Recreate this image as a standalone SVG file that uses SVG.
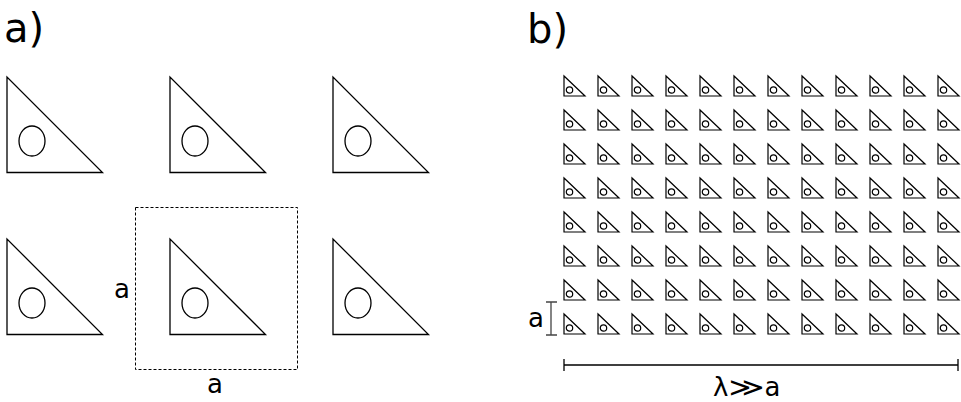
<svg xmlns="http://www.w3.org/2000/svg" xmlns:xlink="http://www.w3.org/1999/xlink" width="961" height="402" viewBox="0 0 961 402">
<style>
.s{fill:none;stroke:#000;stroke-width:1.3}
.ss{fill:none;stroke:#000;stroke-width:1.2}
.t{font-family:"DejaVu Sans","Liberation Sans",sans-serif;fill:#000}
</style>
<defs>
<g id="big"><path class="s" d="M0,0 L0,95.5 L95.5,95.5 Z"/><ellipse class="s" cx="25" cy="64" rx="13" ry="15"/></g>
<g id="small"><path class="ss" d="M0,0 L0,20 L21,20 Z"/><circle class="ss" cx="5.5" cy="14" r="3.2"/></g>
</defs>
<rect width="961" height="402" fill="#fff"/>
<text class="t" x="4" y="42" font-size="40">a)</text>
<text class="t" x="527" y="43" font-size="40">b)</text>
<g id="a-cells">
<use id="a11" xlink:href="#big" x="7" y="77"/>
<use id="a12" xlink:href="#big" x="170" y="77"/>
<use id="a13" xlink:href="#big" x="333" y="77"/>
<use id="a21" xlink:href="#big" x="7" y="239"/>
<use id="a22" xlink:href="#big" x="170" y="239"/>
<use id="a23" xlink:href="#big" x="333" y="239"/>
</g>
<rect x="135.5" y="207.5" width="162" height="162" fill="none" stroke="#000" stroke-width="1" stroke-dasharray="3,2"/>
<text class="t" x="122" y="298" font-size="26" text-anchor="middle">a</text>
<text class="t" x="215" y="393" font-size="26" text-anchor="middle">a</text>
<g id="b-grid">
<g id="row0"><use xlink:href="#small" x="564" y="76"/><use xlink:href="#small" x="598" y="76"/><use xlink:href="#small" x="632" y="76"/><use xlink:href="#small" x="666" y="76"/><use xlink:href="#small" x="700" y="76"/><use xlink:href="#small" x="734" y="76"/><use xlink:href="#small" x="768" y="76"/><use xlink:href="#small" x="802" y="76"/><use xlink:href="#small" x="836" y="76"/><use xlink:href="#small" x="870" y="76"/><use xlink:href="#small" x="904" y="76"/><use xlink:href="#small" x="938" y="76"/></g>
<use id="row1" xlink:href="#row0" y="34"/>
<use id="row2" xlink:href="#row0" y="68"/>
<use id="row3" xlink:href="#row0" y="102"/>
<use id="row4" xlink:href="#row0" y="136"/>
<use id="row5" xlink:href="#row0" y="170"/>
<use id="row6" xlink:href="#row0" y="204"/>
<use id="row7" xlink:href="#row0" y="238"/>
</g>
<g id="scale-a" stroke="#444" stroke-width="1.3" fill="none">
<path d="M551,302 V335 M546,302 H557 M546,335 H557"/>
</g>
<text class="t" x="536" y="327" font-size="26" text-anchor="middle">a</text>
<g id="scale-lambda" stroke="#000" stroke-width="1.3" fill="none">
<path d="M564,365 H958 M564,359 V371 M958,359 V371"/>
</g>
<text class="t" x="713" y="396" font-size="26">λ<tspan textLength="36" lengthAdjust="spacingAndGlyphs">≫</tspan>a</text>
</svg>
